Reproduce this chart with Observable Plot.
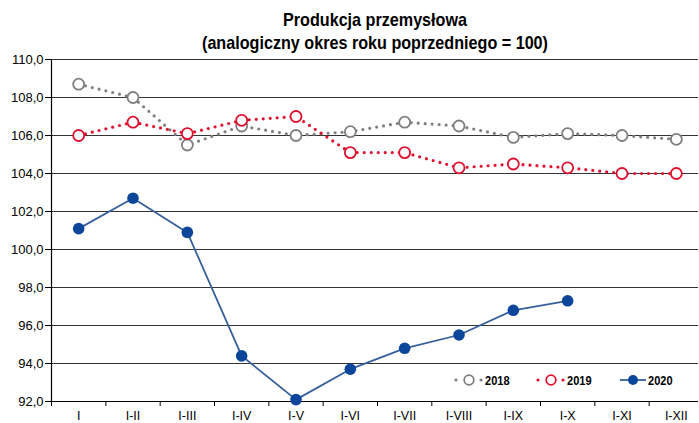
<!DOCTYPE html>
<html>
<head>
<meta charset="utf-8">
<script src="https://cdn.jsdelivr.net/npm/d3@7"></script>
<script src="https://cdn.jsdelivr.net/npm/@observablehq/plot@0.6"></script>
<style>
  html, body { margin: 0; padding: 0; background: #fff; }
  #wrap { position: relative; width: 699px; height: 423px; overflow: hidden; font-family: "Liberation Sans", Arial, sans-serif; background: #fff; }
  #title { position: absolute; left: 51px; width: 648px; top: 0; text-align: center; font-weight: bold; font-size: 19px; color: #000; z-index: 2; }
  #title div { display: block; transform: scaleX(0.85); transform-origin: center; white-space: nowrap; line-height: 23px; }
  #chart { position: absolute; left: 0; top: 50px; z-index: 1; }
  #legend { position: absolute; top: 371px; left: 0; width: 699px; height: 18px; z-index: 3; }
  .lg { position: absolute; top: 0; display: flex; align-items: center; height: 18px; }
  .lg span { font-weight: bold; font-size: 13px; display: inline-block; transform: scaleX(0.85); transform-origin: left center; margin-left: 1px; }
</style>
</head>
<body>
<div id="wrap">
  <div id="title"><div style="margin-top:8px">Produkcja przemysłowa</div><div>(analogiczny okres roku poprzedniego = 100)</div></div>
  <div id="chart"></div>
  <div id="legend"></div>
</div>
<script>
const categories = ["I", "I-II", "I-III", "I-IV", "I-V", "I-VI", "I-VII", "I-VIII", "I-IX", "I-X", "I-XI", "I-XII"];
const values2018 = [108.7, 108.0, 105.5, 106.5, 106.0, 106.2, 106.7, 106.5, 105.9, 106.1, 106.0, 105.8];
const values2019 = [106.0, 106.7, 106.1, 106.8, 107.0, 105.1, 105.1, 104.3, 104.5, 104.3, 104.0, 104.0];
const values2020 = [101.1, 102.7, 100.9, 94.4, 92.1, 93.7, 94.8, 95.5, 96.8, 97.3];
const yTicks = [92, 94, 96, 98, 100, 102, 104, 106, 108, 110];
const seriesNames = ["2018", "2019", "2020"];

const gray = "#7f7f7f", red = "#e0112e", blueLine = "#365f9c", blueDot = "#0b469b";

const toRows = (vals, name) => vals.map((v, i) => ({i, v, s: name}));
const d18 = toRows(values2018, seriesNames[0]);
const d19 = toRows(values2019, seriesNames[1]);
const d20 = toRows(values2020, seriesNames[2]);
const boundaries = categories.map((c, i) => i - 0.5);

const fmt = d => d.toFixed(1).replace(".", ",");

const chart = Plot.plot({
  width: 699,
  height: 373,
  marginTop: 9,
  marginBottom: 22,
  marginLeft: 51,
  marginRight: 1,
  style: {fontFamily: "'Liberation Sans', Arial, sans-serif", fontSize: "13px", color: "#000", background: "transparent", overflow: "visible"},
  x: {type: "linear", domain: [-0.5, 11.5], range: [51, 703]},
  y: {domain: [92, 110]},
  marks: [
    Plot.gridY(yTicks.filter(t => t > 92), {stroke: "#333", strokeOpacity: 1, strokeWidth: 1.2}),
    Plot.axisY({ticks: yTicks, tickFormat: fmt, tickSize: 6, tickPadding: 2, label: null, fontSize: 13}),
    Plot.axisX({ticks: d3.range(categories.length), tickFormat: i => categories[i], tickSize: 0, tickPadding: 10, label: null, fontSize: 12.5}),
    Plot.axisX({ticks: boundaries, tickFormat: () => "", tickSize: 5, label: null}),
    Plot.ruleY([92], {stroke: "#000", strokeWidth: 1.2}),
    Plot.ruleX([-0.5], {stroke: "#000", strokeWidth: 1.2}),
    Plot.line(d18, {x: "i", y: "v", stroke: gray, strokeWidth: 3.2, strokeDasharray: "0 7", strokeLinecap: "round"}),
    Plot.dot(d18, {x: "i", y: "v", r: 5.5, stroke: gray, fill: "#fff", strokeWidth: 1.8}),
    Plot.line(d19, {x: "i", y: "v", stroke: red, strokeWidth: 3.2, strokeDasharray: "0 7", strokeLinecap: "round"}),
    Plot.dot(d19, {x: "i", y: "v", r: 5.5, stroke: red, fill: "#fff", strokeWidth: 1.8}),
    Plot.line(d20, {x: "i", y: "v", stroke: blueLine, strokeWidth: 1.8}),
    Plot.dot(d20, {x: "i", y: "v", r: 5.8, fill: blueDot, stroke: "none"})
  ]
});
document.getElementById("chart").appendChild(chart);

// legend
const legend = document.getElementById("legend");
const items = [
  {name: seriesNames[0], color: gray, type: "open", left: 452},
  {name: seriesNames[1], color: red, type: "open", left: 534},
  {name: seriesNames[2], color: blueDot, type: "filled", left: 619}
];
for (const it of items) {
  const el = document.createElement("div");
  el.className = "lg";
  el.style.left = it.left + "px";
  let svg;
  if (it.type === "open") {
    svg = `<svg width="32" height="18"><circle cx="4" cy="9" r="1.6" fill="${it.color}"/><circle cx="17" cy="9" r="4.8" fill="#fff" stroke="${it.color}" stroke-width="1.8"/><circle cx="29" cy="9" r="1.6" fill="${it.color}"/></svg>`;
  } else {
    svg = `<svg width="28" height="18"><line x1="1" x2="27" y1="9" y2="9" stroke="${blueLine}" stroke-width="1.8"/><circle cx="14" cy="9" r="5" fill="${it.color}"/></svg>`;
  }
  el.innerHTML = svg + `<span>${it.name}</span>`;
  legend.appendChild(el);
}
</script>
</body>
</html>
